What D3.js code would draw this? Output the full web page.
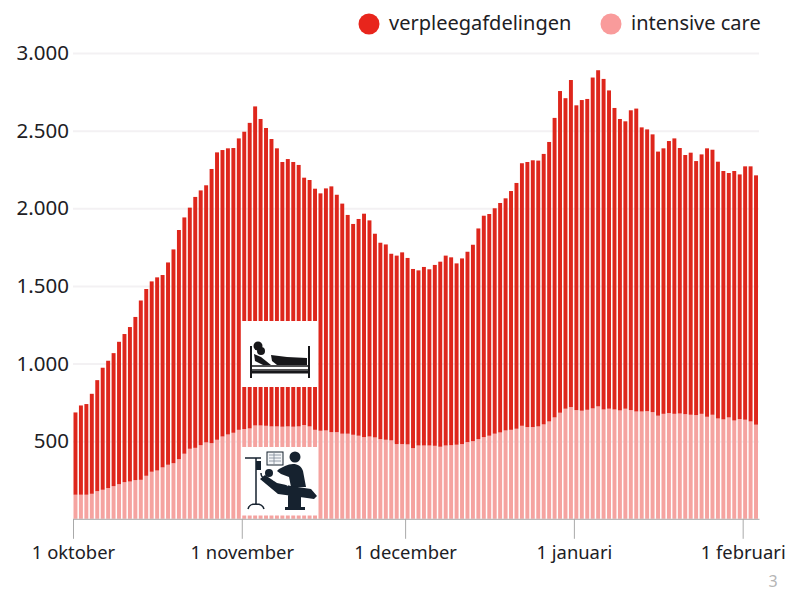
<!DOCTYPE html>
<html>
<head>
<meta charset="utf-8">
<script src="https://cdn.jsdelivr.net/npm/d3@7"></script>
<style>
  html, body { margin: 0; padding: 0; background: #fff; }
  text { font-family: "Noto Sans", sans-serif; fill: #202024; }
</style>
</head>
<body>
<div id="chart"></div>
<script>
// totals (top of each bar), one per day from 1 oktober
const totaal = [
  685, 730, 739, 805, 893, 973, 1018, 1067, 1140, 1190, 1235, 1300, 1406, 1480, 1529, 1555,
  1570, 1651, 1735, 1860, 1941, 2004, 2073, 2115, 2148, 2253, 2360, 2375, 2386, 2388, 2450,
  2493, 2550, 2656, 2575, 2517, 2446, 2386, 2298, 2317, 2298, 2279, 2197, 2182, 2126, 2096,
  2128, 2141, 2087, 2030, 1957, 1899, 1931, 1965, 1922, 1836, 1778, 1767, 1707, 1695, 1716,
  1680, 1609, 1600, 1622, 1607, 1635, 1656, 1695, 1684, 1645, 1677, 1720, 1765, 1870, 1952,
  1963, 2000, 2034, 2064, 2111, 2163, 2290, 2298, 2309, 2307, 2350, 2427, 2582, 2755, 2709,
  2826, 2663, 2697, 2704, 2842, 2889, 2833, 2759, 2646, 2575, 2560, 2631, 2642, 2521, 2508,
  2476, 2365, 2386, 2433, 2450, 2388, 2343, 2358, 2304, 2347, 2386, 2377, 2300, 2240, 2227,
  2240, 2218, 2270, 2270, 2212
];
const intensiveCare = [
  155, 155, 155, 161, 178, 187, 198, 210, 223, 236, 240, 249, 251, 277, 303, 311,
  331, 348, 358, 384, 419, 451, 457, 474, 492, 487, 509, 530, 543, 554, 573,
  578, 582, 601, 601, 599, 595, 595, 593, 595, 593, 595, 604, 595, 573, 567,
  569, 558, 558, 548, 548, 541, 535, 526, 530, 524, 513, 509, 505, 481, 481,
  479, 455, 472, 472, 472, 470, 464, 472, 474, 477, 481, 494, 500, 513, 526,
  535, 548, 556, 569, 573, 580, 599, 591, 591, 595, 608, 627, 653, 683, 709,
  720, 700, 696, 702, 711, 724, 704, 709, 704, 698, 709, 700, 691, 691, 693,
  687, 664, 676, 681, 676, 678, 674, 670, 668, 676, 657, 670, 646, 640, 653,
  633, 642, 638, 627, 606
];
const yTicks = [500, 1000, 1500, 2000, 2500, 3000];
const monthTicks = [
  [new Date(2020, 9, 1), "1 oktober"],
  [new Date(2020, 10, 1), "1 november"],
  [new Date(2020, 11, 1), "1 december"],
  [new Date(2021, 0, 1), "1 januari"],
  [new Date(2021, 1, 1), "1 februari"]
];
const legendItems = [
  { name: "verpleegafdelingen", color: "#e8251c", cx: 369, tx: 389 },
  { name: "intensive care", color: "#f99b9b", cx: 611, tx: 631 }
];

const width = 789, height = 589;
const dates = d3.timeDay.range(new Date(2020, 9, 1), new Date(2021, 1, 4));
const rows = dates.map((d, i) => ({
  date: d,
  ic: intensiveCare[i],
  ward: totaal[i] - intensiveCare[i]
}));

const svg = d3.select("#chart").append("svg")
  .attr("width", width)
  .attr("height", height)
  .style("display", "block");

const x = d3.scaleTime()
  .domain([dates[0], d3.timeDay.offset(dates[dates.length - 1], 1)])
  .range([73, 759]);
const y = d3.scaleLinear().domain([0, 3000]).range([518.8, 53]);
const nl = d3.formatLocale({ decimal: ",", thousands: ".", grouping: [3], currency: ["€", ""] });

// gridlines + y labels
const yAxis = svg.append("g")
  .attr("transform", "translate(73,0)")
  .call(d3.axisLeft(y).tickValues(yTicks).tickFormat(nl.format(",")).tickSize(-686).tickPadding(4));
yAxis.select(".domain").remove();
yAxis.selectAll("line").attr("stroke", "#f3f1f3").attr("stroke-width", 2);
yAxis.selectAll("text").attr("font-size", 20.5).style("fill", "#202024");
yAxis.attr("font-family", null);

// stacked bars
const stack = d3.stack().keys(["ic", "ward"])(rows);
const barColors = { ic: "#f5a3a0", ward: "#de261c" };
const step = (x.range()[1] - x.range()[0]) / dates.length;
svg.append("g").selectAll("g")
  .data(stack)
  .join("g")
  .attr("fill", s => barColors[s.key])
  .selectAll("rect")
  .data(s => s)
  .join("rect")
  .attr("x", d => x(d.data.date) + 0.5)
  .attr("width", step - 1.5)
  .attr("y", d => y(d[1]))
  .attr("height", d => y(d[0]) - y(d[1]));

// x axis
const xAxis = svg.append("g")
  .attr("transform", `translate(0,${y(0)})`)
  .call(d3.axisBottom(x)
    .tickValues(monthTicks.map(d => d[0]))
    .tickFormat((d, i) => monthTicks[i][1])
    .tickSize(20)
    .tickSizeOuter(0)
    .tickPadding(7));
xAxis.select(".domain").attr("stroke", "#a9a9a9");
xAxis.selectAll("line").attr("stroke", "#a9a9a9");
xAxis.selectAll("text").attr("font-size", 18.4).style("fill", "#202024");
xAxis.attr("font-family", null);

// legend
const legend = svg.append("g").selectAll("g").data(legendItems).join("g");
legend.append("circle")
  .attr("cx", d => d.cx)
  .attr("cy", 24)
  .attr("r", 10.5)
  .attr("fill", d => d.color);
legend.append("text")
  .attr("x", d => d.tx)
  .attr("y", 30)
  .attr("font-size", 20)
  .text(d => d.name);

// page number
svg.append("text")
  .attr("x", 773)
  .attr("y", 587)
  .attr("text-anchor", "middle")
  .attr("font-size", 16)
  .style("fill", "#b5b5b5")
  .text("3");

// bed icon
const bed = svg.append("g").attr("transform", "translate(241,321)");
bed.append("rect").attr("width", 77).attr("height", 66).attr("fill", "#fff");
const bedInk = "#17171a";
bed.append("path")
  .attr("fill", "none")
  .attr("stroke", bedInk)
  .attr("stroke-width", 2)
  .attr("d", "M10,25V57M68,25V57");
bed.append("path")
  .attr("fill", "none")
  .attr("stroke", bedInk)
  .attr("stroke-width", 1.6)
  .attr("d", "M10,45H68M10,49H68");
bed.append("rect").attr("x", 10).attr("y", 50).attr("width", 58).attr("height", 2.5).attr("fill", bedInk);
bed.append("circle").attr("cx", 17).attr("cy", 25).attr("r", 4.5).attr("fill", bedInk);
bed.append("circle").attr("cx", 20).attr("cy", 30).attr("r", 4).attr("fill", bedInk);
bed.append("path")
  .attr("fill", bedInk)
  .attr("d", "M13,33L20,36L30,44L22,44L14,40ZM30,34L46,36L66,37V44H36L31,40Z");

// intensive care icon
const icu = svg.append("g").attr("transform", "translate(241,447)");
icu.append("rect").attr("width", 77).attr("height", 68.5).attr("fill", "#fff");
const icuInk = "#16222f";
icu.append("path")
  .attr("fill", "none")
  .attr("stroke", icuInk)
  .attr("stroke-width", 1.5)
  .attr("d", "M4,11H20M15,11V58M7,62C8,57 12,57 15,57C19,57 22,58 23,62M20,26C20,32 24,30 26,32");
icu.append("rect").attr("x", 15).attr("y", 14).attr("width", 5).attr("height", 9).attr("fill", icuInk);
icu.append("rect")
  .attr("x", 26).attr("y", 5).attr("width", 16).attr("height", 13)
  .attr("fill", "#f4f6f8").attr("stroke", icuInk).attr("stroke-width", 1);
icu.append("path")
  .attr("fill", "none")
  .attr("stroke", "#7d8994")
  .attr("stroke-width", 0.8)
  .attr("d", "M28,8H40M28,11H40M28,14H40M33,6V17");
icu.append("circle").attr("cx", 54).attr("cy", 10).attr("r", 5.5).attr("fill", icuInk);
icu.append("circle").attr("cx", 28).attr("cy", 26).attr("r", 4).attr("fill", icuInk);
icu.append("path")
  .attr("fill", icuInk)
  .attr("d", "M44,19C52,15 60,17 62,24L65,40L50,40L48,30L40,27L36,24L38,22Z");
icu.append("path")
  .attr("fill", icuInk)
  .attr("d", "M19,32L24,28L36,36L50,39L70,42L76,49L73,52L52,49L37,47ZM47,46H60V60H64V63H44V60H47Z");
icu.append("path")
  .attr("fill", "none")
  .attr("stroke", "#fff")
  .attr("stroke-width", 0.8)
  .attr("d", "M32,33C38,31 42,35 47,39");
</script>
</body>
</html>
